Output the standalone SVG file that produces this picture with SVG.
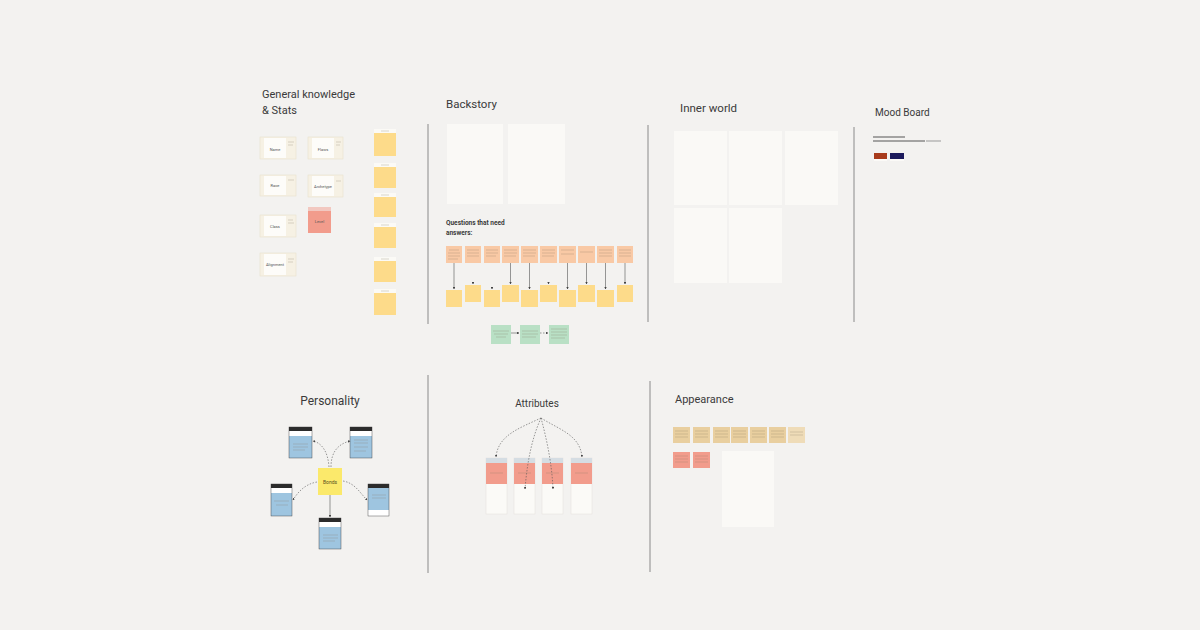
<svg xmlns="http://www.w3.org/2000/svg" width="1200" height="630" viewBox="0 0 1200 630">
<style>
.title{font-family:Roboto,"Liberation Sans",sans-serif;fill:#3a3a3a}
.small{font-family:Roboto,"Liberation Sans",sans-serif;fill:#555;font-size:4px}
.div{stroke:#8a8a8a;stroke-width:1}
.card{fill:#f6f1e4;stroke:#e9e1cc;stroke-width:0.6}
.cardin{fill:#fdfcf9}
.sticky{fill:#fddb8a}
.stickyhd{fill:#fbfaf6}
.panel{fill:#faf9f6}
.q{fill:#f9c9a5}
.green{fill:#b9e0c5}
.blue{fill:#9ec5e0}
.dark{fill:#2b2b2b}
.beige{fill:#e9cf9f}
.salmon{fill:#f29c8c}
.txl{stroke:#9c8c78;stroke-width:0.5}
.conn{fill:none;stroke:#555;stroke-width:0.6}
.dash{fill:none;stroke:#555;stroke-width:0.6;stroke-dasharray:1.5 1.5}
</style>
<defs>
<marker id="ah" viewBox="0 0 6 6" refX="5" refY="3" markerWidth="4" markerHeight="4" orient="auto">
<path d="M0,0 L6,3 L0,6 z" fill="#444"/>
</marker>
</defs>
<rect x="0" y="0" width="1200" height="630" fill="#f3f2f0"/>

<!-- dividers -->
<g id="dividers">
<line class="div" x1="428" y1="124" x2="428" y2="324"/>
<line class="div" x1="648" y1="125" x2="648" y2="322"/>
<line class="div" x1="854" y1="127" x2="854" y2="322"/>
<line class="div" x1="428" y1="375" x2="428" y2="573"/>
<line class="div" x1="650" y1="381" x2="650" y2="572"/>
</g>

<!-- General knowledge -->
<g id="general">
<text class="title" x="262" y="98" font-size="11">General knowledge</text>
<text class="title" x="262" y="114" font-size="11">&amp; Stats</text>
<g id="card-name"><rect class="card" x="260" y="137" width="36" height="22"/><rect class="cardin" x="264" y="138" width="22" height="20"/><text class="small" x="275" y="150.5" text-anchor="middle">Name</text></g>
<g id="card-flaws"><rect class="card" x="308" y="137" width="35" height="22"/><rect class="cardin" x="312" y="138" width="22" height="20"/><text class="small" x="323" y="150.5" text-anchor="middle">Flaws</text></g>
<g id="card-race"><rect class="card" x="260" y="175" width="36" height="21"/><rect class="cardin" x="264" y="176" width="22" height="19"/><text class="small" x="275" y="187" text-anchor="middle">Race</text></g>
<g id="card-arch"><rect class="card" x="308" y="175" width="35" height="22"/><rect class="cardin" x="312" y="176" width="22" height="20"/><text class="small" x="323" y="187.5" text-anchor="middle" font-size="3.5">Archetype</text></g>
<g id="card-class"><rect class="card" x="260" y="215" width="36" height="22"/><rect class="cardin" x="264" y="216" width="22" height="20"/><text class="small" x="275" y="227.5" text-anchor="middle">Class</text></g>
<g id="card-align"><rect class="card" x="260" y="253" width="36" height="23"/><rect class="cardin" x="264" y="254" width="22" height="21"/><text class="small" x="275" y="266" text-anchor="middle" font-size="3.5">Alignment</text></g>
<g id="card-level"><rect x="308" y="207" width="23" height="26" fill="#f2c8c0"/><rect class="salmon" x="308" y="211" width="23" height="22"/><text class="small" x="319.5" y="223" text-anchor="middle" fill="#5a3a34">Level</text></g>
<g id="stickies">
<rect class="stickyhd" x="374" y="129" width="22" height="4"/><rect class="sticky" x="374" y="133" width="22" height="23"/>
<rect class="stickyhd" x="374" y="163" width="22" height="4"/><rect class="sticky" x="374" y="167" width="22" height="21"/>
<rect class="stickyhd" x="374" y="193" width="22" height="4"/><rect class="sticky" x="374" y="197" width="22" height="20"/>
<rect class="stickyhd" x="374" y="223" width="22" height="4"/><rect class="sticky" x="374" y="227" width="22" height="21"/>
<rect class="stickyhd" x="374" y="257" width="22" height="4"/><rect class="sticky" x="374" y="261" width="22" height="21"/>
<rect class="stickyhd" x="374" y="289" width="22" height="4"/><rect class="sticky" x="374" y="293" width="22" height="22"/>
</g>
</g>

<!-- Backstory -->
<g id="backstory">
<text class="title" x="446" y="108" font-size="11.5">Backstory</text>
<rect class="panel" x="447" y="124" width="56" height="80"/>
<rect class="panel" x="508" y="124" width="57" height="80"/>
<text class="title" x="446" y="225" font-size="6.5" font-weight="bold" fill="#444">Questions that need</text>
<text class="title" x="446" y="235" font-size="6.5" font-weight="bold" fill="#444">answers:</text>
<g id="questions">
<rect class="q" x="446" y="246" width="16" height="17"/>
<rect class="q" x="465" y="246" width="16" height="17"/>
<rect class="q" x="484" y="246" width="16" height="17"/>
<rect class="q" x="502" y="246" width="17" height="17"/>
<rect class="q" x="521" y="246" width="17" height="17"/>
<rect class="q" x="540" y="246" width="17" height="17"/>
<rect class="q" x="559" y="246" width="17" height="17"/>
<rect class="q" x="578" y="246" width="17" height="17"/>
<rect class="q" x="597" y="246" width="17" height="17"/>
<rect class="q" x="617" y="246" width="16" height="17"/>
</g>
<g id="answers">
<rect class="sticky" x="446" y="290" width="16" height="17"/>
<rect class="sticky" x="465" y="285" width="16" height="17"/>
<rect class="sticky" x="484" y="290" width="16" height="17"/>
<rect class="sticky" x="502" y="285" width="17" height="17"/>
<rect class="sticky" x="521" y="290" width="17" height="17"/>
<rect class="sticky" x="540" y="285" width="17" height="17"/>
<rect class="sticky" x="559" y="290" width="17" height="17"/>
<rect class="sticky" x="578" y="285" width="17" height="17"/>
<rect class="sticky" x="597" y="290" width="17" height="17"/>
<rect class="sticky" x="617" y="285" width="16" height="17"/>
</g>
<g id="green">
<rect class="green" x="491" y="325" width="20" height="19"/>
<rect class="green" x="520" y="325" width="20" height="19"/>
<rect class="green" x="549" y="325" width="20" height="19"/>
</g>
</g>

<!-- Inner world -->
<g id="inner-world">
<text class="title" x="680" y="112" font-size="11.5">Inner world</text>
<rect class="panel" x="674" y="131" width="53" height="74"/>
<rect class="panel" x="729" y="131" width="53" height="74"/>
<rect class="panel" x="785" y="131" width="53" height="74"/>
<rect class="panel" x="674" y="208" width="53" height="75"/>
<rect class="panel" x="729" y="208" width="53" height="75"/>
</g>

<!-- Mood board -->
<g id="mood-board">
<text class="title" x="875" y="116" font-size="10">Mood Board</text>
<line x1="873" y1="137" x2="905" y2="137" stroke="#555" stroke-width="1"/>
<line x1="873" y1="141" x2="925" y2="141" stroke="#555" stroke-width="1"/>
<line x1="926" y1="141" x2="941" y2="141" stroke="#999" stroke-width="1"/>
<rect x="874" y="153" width="13" height="6" fill="#a83b1c"/>
<rect x="874" y="159" width="13" height="2" fill="#fbfaf7"/>
<rect x="890" y="153" width="14" height="6" fill="#1c1a5c"/>
<rect x="890" y="159" width="14" height="2" fill="#fbfaf7"/>
</g>

<!-- Personality -->
<g id="personality">
<text class="title" x="330" y="405" font-size="12" text-anchor="middle">Personality</text>
<g id="p-tl"><rect class="dark" x="289" y="427" width="23" height="4"/><rect x="289" y="431" width="23" height="5" fill="#fff"/><rect class="blue" x="289" y="436" width="23" height="22"/><rect x="289" y="427" width="23" height="31" fill="none" stroke="#333" stroke-width="0.4"/></g>
<g id="p-tr"><rect class="dark" x="350" y="427" width="22" height="4"/><rect x="350" y="431" width="22" height="5" fill="#fff"/><rect class="blue" x="350" y="436" width="22" height="22"/><rect x="350" y="427" width="22" height="31" fill="none" stroke="#333" stroke-width="0.4"/></g>
<g id="p-l"><rect class="dark" x="271" y="484" width="21" height="4"/><rect x="271" y="488" width="21" height="5" fill="#fff"/><rect class="blue" x="271" y="493" width="21" height="23"/><rect x="271" y="484" width="21" height="32" fill="none" stroke="#333" stroke-width="0.4"/></g>
<g id="p-r"><rect class="dark" x="368" y="484" width="21" height="4"/><rect class="blue" x="368" y="488" width="21" height="22"/><rect x="368" y="510" width="21" height="6" fill="#fff"/><rect x="368" y="484" width="21" height="32" fill="none" stroke="#333" stroke-width="0.4"/></g>
<g id="p-b"><rect class="dark" x="319" y="518" width="22" height="4"/><rect x="319" y="522" width="22" height="5" fill="#fff"/><rect class="blue" x="319" y="527" width="22" height="22"/><rect x="319" y="518" width="22" height="31" fill="none" stroke="#333" stroke-width="0.4"/></g>
<g id="bonds"><rect x="318" y="468" width="24" height="27" fill="#fbe96b"/><text x="330" y="484" font-family="Roboto,'Liberation Sans',sans-serif" font-size="5" fill="#5a5020" text-anchor="middle">Bonds</text></g>
</g>

<!-- Attributes -->
<g id="attributes">
<text class="title" x="537" y="407" font-size="10" text-anchor="middle">Attributes</text>
<g id="a1"><rect x="486" y="458" width="21" height="56" fill="#fbfaf7" stroke="#e3e0da" stroke-width="0.5"/><rect x="486" y="458" width="21" height="5" fill="#d5dde3"/><rect class="salmon" x="486" y="463" width="21" height="21"/></g>
<g id="a2"><rect x="514" y="458" width="21" height="56" fill="#fbfaf7" stroke="#e3e0da" stroke-width="0.5"/><rect x="514" y="458" width="21" height="5" fill="#d5dde3"/><rect class="salmon" x="514" y="463" width="21" height="21"/></g>
<g id="a3"><rect x="542" y="458" width="21" height="56" fill="#fbfaf7" stroke="#e3e0da" stroke-width="0.5"/><rect x="542" y="458" width="21" height="5" fill="#d5dde3"/><rect class="salmon" x="542" y="463" width="21" height="21"/></g>
<g id="a4"><rect x="571" y="458" width="21" height="56" fill="#fbfaf7" stroke="#e3e0da" stroke-width="0.5"/><rect x="571" y="458" width="21" height="5" fill="#d5dde3"/><rect class="salmon" x="571" y="463" width="21" height="21"/></g>
</g>

<!-- Appearance -->
<g id="appearance">
<text class="title" x="675" y="403" font-size="11">Appearance</text>
<rect class="beige" x="673" y="427" width="17" height="16"/>
<rect class="beige" x="693" y="427" width="17" height="16"/>
<rect class="beige" x="713" y="427" width="17" height="16"/>
<rect class="beige" x="731" y="427" width="17" height="16"/>
<rect class="beige" x="750" y="427" width="17" height="16"/>
<rect class="beige" x="769" y="427" width="17" height="16"/>
<rect x="788" y="427" width="17" height="16" fill="#efdcb8"/>
<rect class="salmon" x="673" y="452" width="17" height="16"/>
<rect class="salmon" x="693" y="452" width="17" height="16"/>
<rect class="panel" x="722" y="451" width="52" height="76"/>
</g>

<!-- connectors -->
<g id="connectors">
<line class="conn" x1="454" y1="263" x2="454" y2="289" marker-end="url(#ah)"/>
<line class="conn" x1="510.5" y1="263" x2="510.5" y2="284" marker-end="url(#ah)"/>
<line class="conn" x1="529.5" y1="263" x2="529.5" y2="289" marker-end="url(#ah)"/>
<line class="conn" x1="567.5" y1="263" x2="567.5" y2="289" marker-end="url(#ah)"/>
<line class="conn" x1="586.5" y1="263" x2="586.5" y2="284" marker-end="url(#ah)"/>
<line class="conn" x1="605.5" y1="263" x2="605.5" y2="289" marker-end="url(#ah)"/>
<line class="conn" x1="625" y1="263" x2="625" y2="284" marker-end="url(#ah)"/>
<line class="conn" x1="473" y1="282" x2="473" y2="284" marker-end="url(#ah)"/>
<line class="conn" x1="492" y1="287" x2="492" y2="289" marker-end="url(#ah)"/>
<line class="conn" x1="548.5" y1="282" x2="548.5" y2="284" marker-end="url(#ah)"/>
<line class="conn" x1="511" y1="333" x2="519" y2="333" marker-end="url(#ah)"/>
<path class="dash" d="M540,333 L548,333" marker-end="url(#ah)"/>
<!-- personality -->
<path class="dash" d="M329,467 C328,452 322,443 313,441" marker-end="url(#ah)"/>
<path class="dash" d="M331,467 C331,452 338,444 350,441" marker-end="url(#ah)"/>
<path class="dash" d="M317,482 C305,484 298,492 293,500" marker-end="url(#ah)"/>
<path class="dash" d="M343,481 C355,483 360,493 367,500" marker-end="url(#ah)"/>
<line class="conn" x1="330" y1="495" x2="330" y2="517" marker-end="url(#ah)"/>
<!-- attributes -->
<path class="dash" d="M541,418 C520,428 498,435 496,457" marker-end="url(#ah)"/>
<path class="dash" d="M541,418 C531,440 527,465 525,489" marker-end="url(#ah)"/>
<path class="dash" d="M541,418 C547,440 552,465 553,489" marker-end="url(#ah)"/>
<path class="dash" d="M541,418 C560,430 580,435 582,457" marker-end="url(#ah)"/>
</g>

<!-- texture lines for illegible tiny texts -->
<g id="tiny-text" stroke="#8c7a66" stroke-width="0.4" opacity="0.7">
<path d="M288,142h6M288,145h5M336,142h5M336,145h4M288,180h6M336,181h5M288,220h5M288,223h6M288,259h6M288,262h5"/>
<path d="M381,131h8M381,165h8M381,195h8M381,225h8M381,259h8M381,291h8"/>
<path d="M449,250h10M448,253h12M448,256h12M448,259h10M467,250h12M467,253h12M467,256h12M486,250h12M486,253h12M486,256h10M504,250h13M504,253h13M504,256h12M523,250h13M523,253h13M523,256h12M542,250h13M542,253h13M542,256h12M561,250h13M561,254h13M580,252h13M599,250h13M599,253h13M599,256h13M619,250h12M619,253h12M619,256h12"/>
<path d="M493,331h16M494,334h14M496,337h10M522,331h16M522,334h16M522,337h14M551,329h16M551,332h16M551,335h16M551,338h14"/>
<path d="M293,444h15M293,447h15M293,450h12M354,440h14M354,443h14M354,447h14M354,451h12M274,501h15M276,505h12M372,495h14M372,498h14M323,535h15M323,538h15M323,541h12"/>
<path d="M490,473h13M518,473h13M546,473h13M575,473h13"/>
<path d="M675,431h13M675,434h13M675,437h13M695,431h13M695,434h13M695,437h13M715,431h13M715,434h13M715,437h13M733,431h13M733,434h13M733,437h13M752,431h13M752,434h13M752,437h13M771,431h13M771,434h13M771,437h13M790,432h13M790,435h13M675,456h13M675,459h13M675,462h13M695,456h13M695,459h13M695,462h13"/>
</g>
</svg>
